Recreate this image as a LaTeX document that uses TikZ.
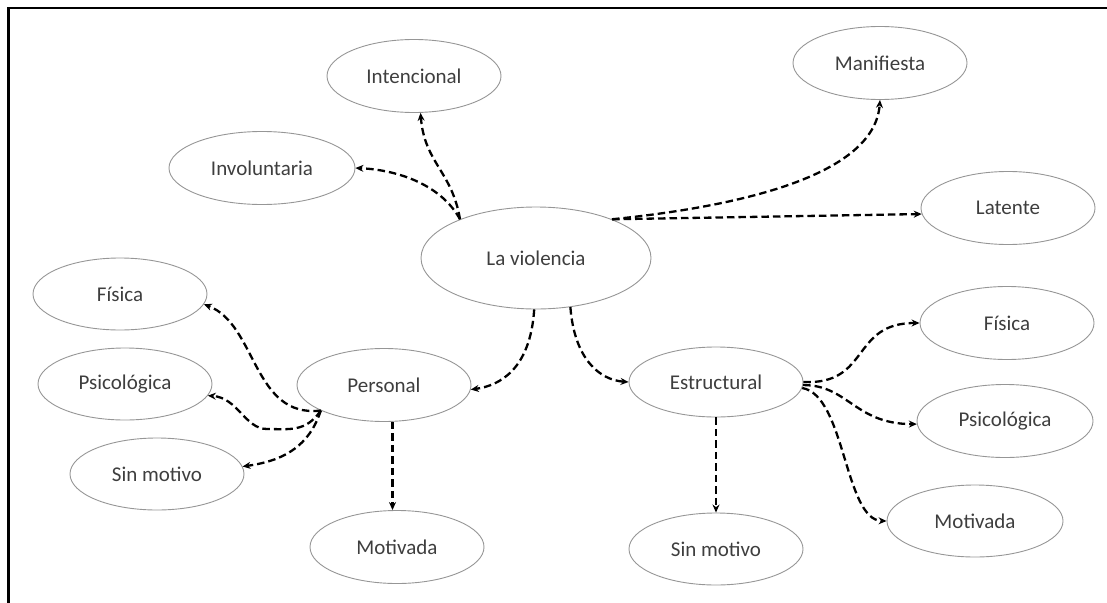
\documentclass[tikz,border=0pt]{standalone}
\usepackage{fontspec}
\setmainfont{Carlito}
\usetikzlibrary{shapes.geometric,arrows.meta}
\definecolor{txt}{RGB}{62,62,62}
\definecolor{rim}{RGB}{150,150,150}
\begin{document}
\begin{tikzpicture}[x=1pt,y=-1pt,
  bubble/.style={ellipse,draw=rim,line width=0.9pt,inner sep=0pt,
    minimum width=174pt,minimum height=73pt,text=txt,
    font=\fontsize{21}{25}\selectfont},
  link/.style={draw=black,line width=2.3pt,dash pattern=on 7.5pt off 4pt,
    -{Stealth[length=8pt,width=7pt]}}]
\useasboundingbox (0,0) rectangle (1107,602);
\clip (0,0) rectangle (1107,602);
% outer frame (top and left edges)
\draw[line width=2.5pt] (8.5,640) -- (8.5,8) -- (1140,8);

% nodes
\node[bubble,minimum width=230pt,minimum height=102pt] (viol) at (536,258) {La violencia};
\node[bubble] (int) at (414,76) {Intencional};
\node[bubble,minimum width=186pt] (inv) at (262,168) {Involuntaria};
\node[bubble] (man) at (880,63) {Manifiesta};
\node[bubble] (lat) at (1008,208) {Latente};
\node[bubble] (pers) at (384,385) {Personal};
\node[bubble,minimum height=70pt] (est) at (716,382) {Estructural};
\node[bubble,minimum height=72pt] (fisL) at (120,294) {Física};
\node[bubble,minimum height=72pt] (psiL) at (125,384) {Psicológica};
\node[bubble,minimum height=72pt] (sinL) at (157,474) {Sin motivo};
\node[bubble] (motL) at (397,547) {Motivada};
\node[bubble] (fisR) at (1007,323) {Física};
\node[bubble,minimum width=176pt] (psiR) at (1005,421) {Psicológica};
\node[bubble,minimum width=176pt,minimum height=72pt] (motR) at (975,521) {Motivada};
\node[bubble,minimum height=72pt] (sinR) at (716,549) {Sin motivo};

% connectors from the centre
\draw[link] (viol.153) .. controls +(-18,-33) and +(45,2) .. (inv.east);
\draw[link] (viol.153) .. controls +(-8,-48) and +(4,50) .. (int.280);
\draw[link] (viol.27) .. controls +(148,-15) and +(-5,70) .. (man.south);
\draw[link] (viol.27) -- (lat.184);
\draw[link] (viol.268) .. controls +(-4,60) and +(29,-4) .. (pers.357);
\draw[link] (viol.305) .. controls +(4,52) and +(-29,-2) .. (est.west);

% personal branch
\draw[link] (pers.202) .. controls +(-68,8) and +(53,20) .. (fisL.353);
\draw[link] (pers.202) .. controls +(-15,22) and +(22,0) .. (267,429)
  .. controls +(-22,0) and +(30,2) .. (psiL.352);
\draw[link] (pers.202) .. controls +(-13,40) and +(35,-5) .. (sinL.5);
\draw[link] (pers.283) -- (pers.283 |- motL.north);

% structural branch
\draw[link] (est.east) .. controls +(67,3) and +(-69,0) .. (fisR.west);
\draw[link] (est.358) .. controls +(45,0) and +(-62,0) .. (psiR.182);
\draw[link] (est.356) .. controls +(43,7) and +(-42,-1) .. (motR.west);
\draw[link] (est.south) -- (sinR.north);
\end{tikzpicture}
\end{document}
